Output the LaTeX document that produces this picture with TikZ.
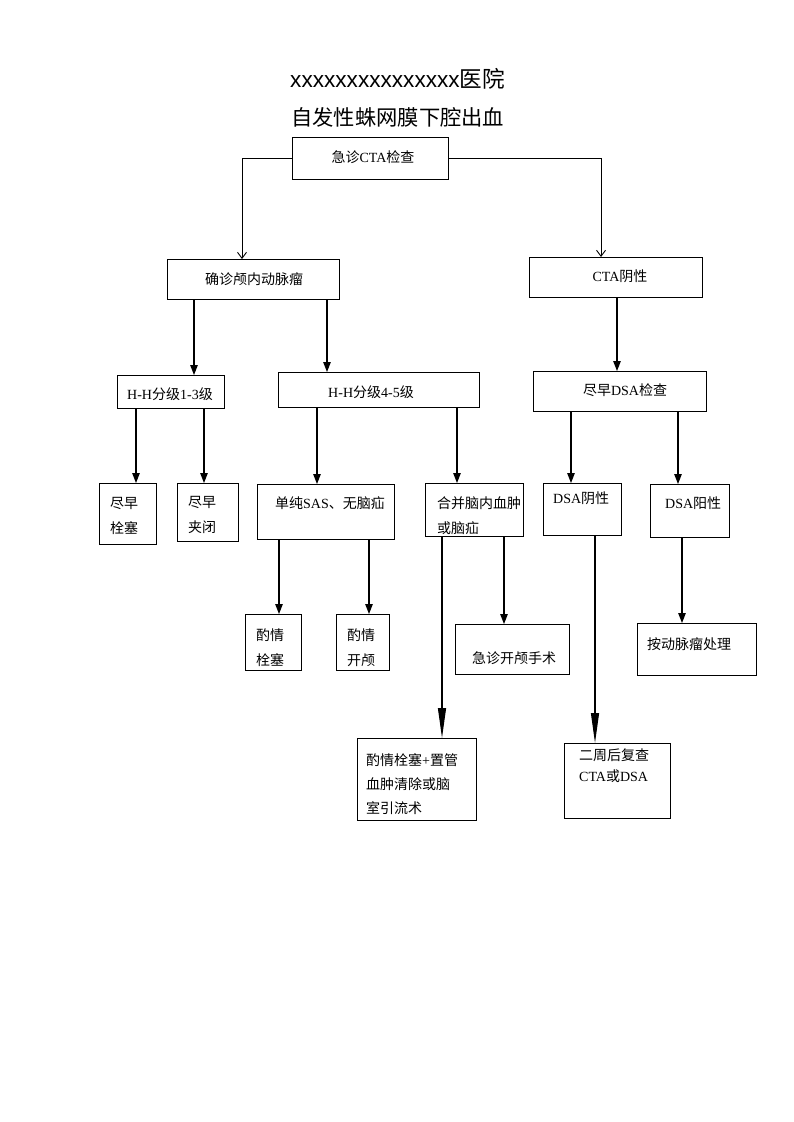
\documentclass[tikz,border=0pt]{standalone}
\usepackage{fontspec}
\setmainfont{Liberation Serif}
\setsansfont{Liberation Sans}
\newfontfamily\cjk{Noto Sans CJK SC}
\usetikzlibrary{arrows.meta}
\newcommand\C[1]{{\cjk #1}}
\begin{document}
\begin{tikzpicture}[x=1pt,y=-1pt,
  box/.style={draw, line width=1.2pt, anchor=north west, inner sep=0pt},
  txt/.style={inner sep=0pt, font=\fontsize{14}{25}\selectfont, align=left},
  arr/.style={line width=1.2pt, -{Triangle[length=10pt,width=7.5pt]}},
  longarr/.style={line width=1.2pt, -{Triangle[length=30pt,width=8pt]}},
  openarr/.style={line width=0.9pt, -{Straight Barb[length=6pt,width=9pt]}},
  title/.style={inner sep=0pt, anchor=base west}]
\useasboundingbox (0,0) rectangle (793,1122);
% titles
\node[title, font=\fontsize{22.6}{26}\selectfont] (t1) at (290,87) {\sffamily xxxxxxxxxxxxxxx\C{医院}};
\node[title, font=\fontsize{21.3}{26}\selectfont] (t2) at (291,125) {\C{自发性蛛网膜下腔出血}};
% boxes
\node[box, minimum width=156, minimum height=42] (cta) at (292,137) {};
\node[box, minimum width=172, minimum height=40] (qz) at (167,259) {};
\node[box, minimum width=173, minimum height=40] (yin) at (529,257) {};
\node[box, minimum width=173, minimum height=40] (dsa) at (533,371) {};
\node[box, minimum width=107, minimum height=33] (h13) at (117,375) {};
\node[box, minimum width=201, minimum height=35] (h45) at (278,372) {};
\node[box, minimum width=57, minimum height=61] (sq) at (99,483) {};
\node[box, minimum width=61, minimum height=58] (sj) at (177,483) {};
\node[box, minimum width=137, minimum height=55] (dc) at (257,484) {};
\node[box, minimum width=98, minimum height=53] (hb) at (425,483) {};
\node[box, minimum width=78, minimum height=52] (dn) at (543,483) {};
\node[box, minimum width=79, minimum height=53] (dp) at (650,484) {};
\node[box, minimum width=56, minimum height=56] (zs) at (245,614) {};
\node[box, minimum width=53, minimum height=56] (zk) at (336,614) {};
\node[box, minimum width=114, minimum height=50] (jz) at (455,624) {};
\node[box, minimum width=119, minimum height=52] (ad) at (637,623) {};
\node[box, minimum width=119, minimum height=82] (zg) at (357,738) {};
\node[box, minimum width=106, minimum height=75] (ez) at (564,743) {};
% texts
\node[txt] (cta-t) at (373,157) {\C{急诊}CTA\C{检查}};
\node[txt] (qz-t) at (254,279) {\C{确诊颅内动脉瘤}};
\node[txt] (yin-t) at (620,276) {CTA\C{阴性}};
\node[txt] (dsa-t) at (625,390) {\C{尽早}DSA\C{检查}};
\node[txt] (h13-t) at (170,394) {H-H\C{分级}1-3\C{级}};
\node[txt] (h45-t) at (371,392) {H-H\C{分级}4-5\C{级}};
\node[txt, anchor=west] (sq-t) at (110,516) {\C{尽早}\\\C{栓塞}};
\node[txt, anchor=west] (sj-t) at (188,515) {\C{尽早}\\\C{夹闭}};
\node[txt, anchor=west] (dc-t) at (275,503) {\C{单纯}SAS\C{、无脑疝}};
\node[txt, anchor=west] (hb-t) at (437,515.5) {\C{合并脑内血肿}\\\C{或脑疝}};
\node[txt, anchor=west] (dn-t) at (553,498) {DSA\C{阴性}};
\node[txt, anchor=west] (dp-t) at (665,503) {DSA\C{阳性}};
\node[txt, anchor=west] (zs-t) at (256,647.5) {\C{酌情}\\\C{栓塞}};
\node[txt, anchor=west] (zk-t) at (347,647.5) {\C{酌情}\\\C{开颅}};
\node[txt, anchor=west] (jz-t) at (472,658) {\C{急诊开颅手术}};
\node[txt, anchor=west] (ad-t) at (647,644) {\C{按动脉瘤处理}};
\node[txt, anchor=west, font=\fontsize{14}{24}\selectfont] (zg-t) at (366,784) {\C{酌情栓塞}+\C{置管}\\\C{血肿清除或脑}\\\C{室引流术}};
\node[txt, anchor=west, font=\fontsize{14}{21}\selectfont] (ez-t) at (579,765.5) {\C{二周后复查}\\CTA\C{或}DSA};
% connectors
\draw[openarr] (cta.west) -| (qz.north -| 242,0);
\draw[openarr] (cta.east) -| (yin.north -| 601,0);
\draw[arr] (qz.south -| 194,0) -- (h13.north -| 194,0);
\draw[arr] (qz.south -| 327,0) -- (h45.north -| 327,0);
\draw[arr] (yin.south -| 617,0) -- (dsa.north -| 617,0);
\draw[arr] (h13.south -| 136,0) -- (sq.north -| 136,0);
\draw[arr] (h13.south -| 204,0) -- (sj.north -| 204,0);
\draw[arr] (h45.south -| 317,0) -- (dc.north -| 317,0);
\draw[arr] (h45.south -| 457,0) -- (hb.north -| 457,0);
\draw[arr] (dsa.south -| 571,0) -- (dn.north -| 571,0);
\draw[arr] (dsa.south -| 678,0) -- (dp.north -| 678,0);
\draw[arr] (dc.south -| 279,0) -- (zs.north -| 279,0);
\draw[arr] (dc.south -| 369,0) -- (zk.north -| 369,0);
\draw[longarr] (hb.south -| 442,0) -- (zg.north -| 442,0);
\draw[arr] (hb.south -| 504,0) -- (jz.north -| 504,0);
\draw[longarr] (dn.south -| 595,0) -- (ez.north -| 595,0);
\draw[arr] (dp.south -| 682,0) -- (ad.north -| 682,0);
\end{tikzpicture}
\end{document}
